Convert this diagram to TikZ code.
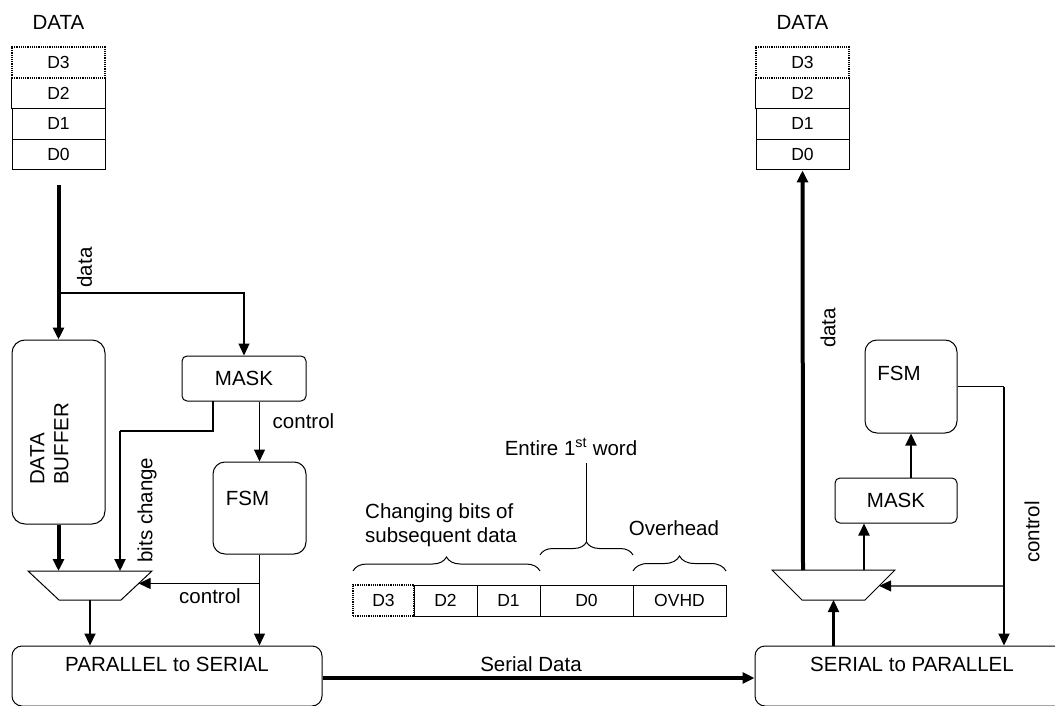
\documentclass[tikz,border=0pt]{standalone}
\usepackage{fontspec}
\setmainfont{Liberation Sans}
\usetikzlibrary{arrows.meta,decorations.pathreplacing,calc}

\begin{document}
\begin{tikzpicture}[x=1pt,y=-1pt,
  lbl/.style={font=\fontsize{20.5}{24}\selectfont, inner sep=0pt},
  dlbl/.style={font=\fontsize{17.5}{20}\selectfont, inner sep=0pt},
  cell/.style={draw, line width=1pt, minimum width=93pt, minimum height=30.75pt, inner sep=0pt, dlbl},
  dotcell/.style={cell, dash pattern=on 1.2pt off 1pt, line width=2pt},
  pcell/.style={draw, line width=1pt, minimum height=31pt, inner sep=0pt, dlbl},
  blk/.style={draw, line width=1pt, inner sep=0pt, lbl},
  thin/.style={line width=1.2pt},
  med/.style={line width=2.2pt},
  thick/.style={line width=4pt},
  tip/.style={-{Triangle[length=12pt,width=11pt]}},
  brc/.style={decorate, decoration={brace, amplitude=#1}, line width=1pt},
]
\useasboundingbox (0,0) rectangle (1055,706);
\clip (0,0) rectangle (1055,706);

% ---------- transmitter data word ----------
\node[lbl] (tdata) at (58.5,22) {DATA};
\node[cell] (td0) at (58.5,154.6) {D0};
\node[cell] (td1) at (58.5,123.9) {D1};
\node[cell, draw=none] (td2) at (58.5,93.1) {D2};
\draw[line width=1pt] (td2.north west) -- (td2.south west) (td2.north east) -- (td2.south east);
\node[dotcell] (td3) at (58.5,62.4) {D3};

% ---------- receiver data word ----------
\node[lbl] (rdata) at (802.5,22) {DATA};
\node[cell] (rd0) at (802.5,154.6) {D0};
\node[cell] (rd1) at (802.5,123.9) {D1};
\node[cell, draw=none] (rd2) at (802.5,93.1) {D2};
\draw[line width=1pt] (rd2.north west) -- (rd2.south west) (rd2.north east) -- (rd2.south east);
\node[dotcell] (rd3) at (802.5,62.4) {D3};

% ---------- transmitter blocks ----------
\node[blk, rounded corners=13pt, minimum width=93pt, minimum height=184pt] (buf) at (58.5,432) {};
\node[lbl, rotate=90, anchor=west, align=left] (buftxt) at (49.5,485) {DATA\\BUFFER};
\node[blk, rounded corners=5pt, minimum width=124pt, minimum height=45pt] (maskL) at (244,378.5) {MASK};
\node[blk, rounded corners=12pt, minimum width=93pt, minimum height=92pt,
      label={[lbl, xshift=-12pt, yshift=10pt]center:FSM}] (fsmL) at (259.5,508) {};
\node[blk, rounded corners=10pt, minimum width=310pt, minimum height=60pt,
      label={[lbl, anchor=center, yshift=-19pt]north:PARALLEL to SERIAL}] (p2s) at (167,676) {};

% transmitter multiplexer
\coordinate (mlA) at (28,571);
\coordinate (mlB) at (152,571);
\coordinate (mlC) at (121,600);
\coordinate (mlD) at (59,600);
\draw[line width=1pt] (mlA) -- (mlB) -- (mlC) -- (mlD) -- cycle;
\coordinate (mlOut) at ($(mlC)!0.5!(mlD)$);
\coordinate (mlCtl) at ($(mlB)!0.43!(mlC)$);

% ---------- receiver blocks ----------
\node[blk, rounded corners=12pt, minimum width=92pt, minimum height=93pt,
      label={[lbl, xshift=-12pt, yshift=13.5pt]center:FSM}] (fsmR) at (911,386.5) {};
\node[blk, rounded corners=5pt, minimum width=122pt, minimum height=45pt] (maskR) at (896,500.5) {MASK};
\node[blk, rounded corners=10pt, minimum width=314pt, minimum height=60pt,
      label={[lbl, anchor=center, yshift=-19pt]north:SERIAL to PARALLEL}] (s2p) at (912,676) {};

% receiver multiplexer
\coordinate (mrA) at (772,570);
\coordinate (mrB) at (895,570);
\coordinate (mrC) at (865,600);
\coordinate (mrD) at (802,600);
\draw[line width=1pt] (mrA) -- (mrB) -- (mrC) -- (mrD) -- cycle;
\coordinate (mrIn) at ($(mrC)!0.5!(mrD)$);
\coordinate (mrCtl) at ($(mrB)!0.53!(mrC)$);

% ---------- transmitter connections ----------
\coordinate (tin) at (58.5,185);
\coordinate (tsplit) at (58.5,293);
\draw[thick, tip] (tin) -- (buf.north);
\draw[thin, tip] (tsplit) -| (maskL.north);
\node[lbl, rotate=90] (dlabL) at (84.5,267.5) {data};

\draw[thick, tip] (buf.south) -- (buf.south |- mlA);

\coordinate (bcknee) at (120,431);
\draw[thin] (213,401) |- (bcknee);
\draw[med, tip] (bcknee) -- (bcknee |- mlA);
\node[lbl, rotate=90] (bclab) at (147,510) {bits change};

\draw[thin, tip] (maskL.south -| fsmL.north) -- (fsmL.north);
\node[lbl] (ctl1) at (303.5,421) {control};

\coordinate (fsmsplit) at (fsmL.south |- mlCtl);
\draw[thin, tip] (fsmL.south) -- (fsmL.south |- p2s.north);
\draw[thin, tip] (fsmsplit) -- (mlCtl);
\node[lbl] (ctl2) at (210,596) {control};

\draw[med, tip] (mlOut) -- (mlOut |- p2s.north);

% ---------- serial link ----------
\draw[thick, tip] (p2s.east |- 0,678) -- (s2p.west |- 0,678);
\node[lbl] (serlab) at (531,664) {Serial Data};

% ---------- receiver connections ----------
\draw[med, tip] (mrIn |- s2p.north) -- (mrIn);
\draw[thick, tip] (803,570) -- (rd0.south);
\node[lbl, rotate=90] (dlabR) at (828,328) {data};
\draw[med, tip] (864,570) -- (maskR.south -| 864,0);
\draw[med, tip] (maskR.north -| fsmR.south) -- (fsmR.south);

\coordinate (rknee) at (1004,386.5);
\coordinate (rsplit) at (1004,586);
\draw[thin] (fsmR.east) -- (rknee);
\draw[med, tip] (rknee) -- (rknee |- s2p.north);
\draw[thin, tip] (rsplit) -- (mrCtl);
\node[lbl, rotate=90] (ctl3) at (1032,532) {control};

% ---------- serial frame ----------
\node[pcell, minimum width=63pt] (fd2) at (445.5,600.5) {D2};
\node[pcell, minimum width=63pt] (fd1) at (508.5,600.5) {D1};
\node[pcell, minimum width=93pt] (fd0) at (586.5,600.5) {D0};
\node[pcell, minimum width=93pt] (fov) at (679.5,600.5) {OVHD};
\node[pcell, minimum width=61pt, dash pattern=on 1.2pt off 1pt, line width=2pt, fill=white] (fd3) at (383.5,600.5) {D3};

\draw[brc=14pt] (353,571) -- (540,571);
\draw[brc=13pt] (540,555) -- (633,555);
\draw[brc=15pt] (633,571) -- (726,571);

\coordinate (wtip) at (586.5,542);
\draw[line width=1pt] (wtip) -- (586.5,463);
\node[lbl] (wlab) at (571,447) {Entire 1\textsuperscript{st} word};
\node[lbl, anchor=west, align=left] (chglab) at (365,525) {Changing bits of\\subsequent data};
\node[lbl] (ovlab) at (674,528) {Overhead};
\end{tikzpicture}
\end{document}
